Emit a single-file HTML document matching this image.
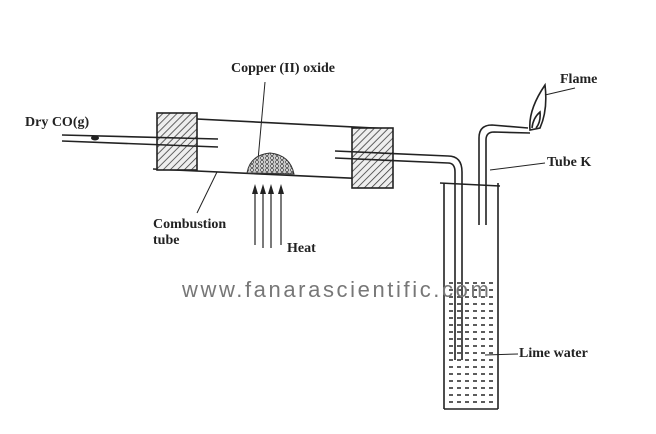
<!DOCTYPE html>
<html><head><style>
body{margin:0;background:#fff;width:656px;height:434px;overflow:hidden;position:relative;font-family:"Liberation Serif",serif;}
.l{position:absolute;font-size:14px;font-weight:bold;color:#222;}
.w{position:absolute;left:182px;top:277px;font-family:"Liberation Sans",sans-serif;font-size:22px;letter-spacing:2.6px;color:#777;}
</style></head><body>
<svg width="656" height="434" style="position:absolute;left:0;top:0">
<defs>
<pattern id="h" width="5" height="5" patternUnits="userSpaceOnUse" patternTransform="rotate(45)"><rect width="5" height="5" fill="#eee"/><line x1="0" y1="0" x2="0" y2="5" stroke="#333" stroke-width="1.5"/></pattern>
<pattern id="d" width="8" height="7" patternUnits="userSpaceOnUse"><rect width="8" height="7" fill="#fff"/><line x1="1" y1="3" x2="5" y2="3" stroke="#333" stroke-width="1.6"/></pattern>
<pattern id="p" width="5" height="4" patternUnits="userSpaceOnUse"><rect width="5" height="4" fill="#ccc"/><circle cx="2" cy="2" r="1.4" fill="#fff" stroke="#333" stroke-width="0.7"/></pattern>
</defs>
<g stroke="#222" stroke-width="1.6" fill="none">
<line x1="157" y1="117" x2="393" y2="129"/>
<line x1="153" y1="169" x2="392" y2="180"/>
<rect x="157" y="113" width="40" height="57" fill="url(#h)"/>
<rect x="352" y="128" width="41" height="60" fill="url(#h)"/>
<line x1="62" y1="135" x2="218" y2="139"/>
<line x1="62" y1="141" x2="218" y2="147"/>
<line x1="335" y1="151" x2="448" y2="156"/>
<line x1="335" y1="158" x2="448" y2="163"/>
<rect x="445" y="280" width="52" height="128" fill="url(#d)" stroke="none"/>
<path d="M448 156 Q462 156 462 172 L462 360"/>
<path d="M448 163 Q455 163 455 172 L455 360"/>
<line x1="444" y1="183" x2="444" y2="409"/><line x1="498" y1="183" x2="498" y2="409"/><line x1="444" y1="409" x2="498" y2="409"/>
<line x1="440" y1="183" x2="500" y2="186"/>
<path d="M479 225 L479 138 Q479 125 492 125 L528 128"/>
<path d="M486 225 L486 140 Q486 132 494 132 L530 133"/>
<path d="M530 130 Q528 110 545 85 Q548 110 540 128 Z" fill="#fff"/>
<path d="M532 128 Q533 118 540 112 Q541 122 536 128"/>
<line x1="265" y1="82" x2="258" y2="160" stroke-width="1"/>
<line x1="217" y1="172" x2="197" y2="213" stroke-width="1"/>
<line x1="545" y1="95" x2="575" y2="88" stroke-width="1"/>
<line x1="490" y1="170" x2="545" y2="163" stroke-width="1"/>
<line x1="485" y1="355" x2="518" y2="354" stroke-width="1"/>
<g stroke-width="1.2">
<line x1="255" y1="245" x2="255" y2="190"/><line x1="263" y1="248" x2="263" y2="190"/>
<line x1="271" y1="248" x2="271" y2="190"/><line x1="281" y1="245" x2="281" y2="190"/>
</g>
</g>
<g fill="#222">
<path d="M252 194 L255 184 L258 194Z"/><path d="M260 194 L263 184 L266 194Z"/>
<path d="M268 194 L271 184 L274 194Z"/><path d="M278 194 L281 184 L284 194Z"/>
<ellipse cx="95" cy="138" rx="4" ry="2.5"/>
</g>
<path d="M247 173 Q250 155 270 153 Q290 155 294 174Z" fill="url(#p)" stroke="#333" stroke-width="1"/>
</svg>
<div class="l" style="left:231px;top:61px">Copper (II) oxide</div>
<div class="l" style="left:25px;top:115px">Dry CO(g)</div>
<div class="l" style="left:153px;top:217px">Combustion<br>tube</div>
<div class="l" style="left:287px;top:241px">Heat</div>
<div class="l" style="left:560px;top:72px">Flame</div>
<div class="l" style="left:547px;top:155px">Tube K</div>
<div class="l" style="left:519px;top:346px">Lime water</div>
<div class="w">www.fanarascientific.com</div>
</body></html>
